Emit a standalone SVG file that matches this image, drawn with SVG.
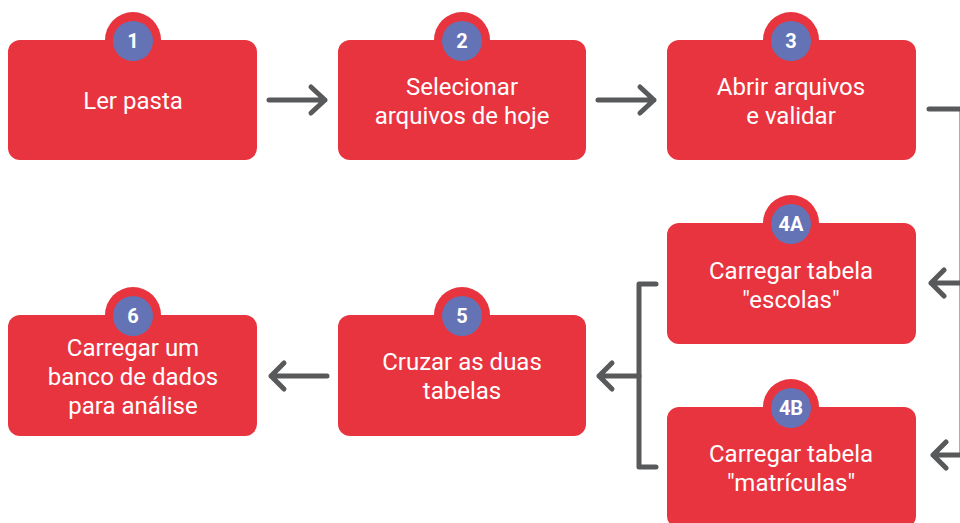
<svg xmlns="http://www.w3.org/2000/svg" width="960" height="523" viewBox="0 0 960 523">
<style>
.box{fill:#e8343f}
.ring{fill:#e8343f}
.dot{fill:#6373b5}
.t{fill:#fff;font-family:Roboto,"Liberation Sans",sans-serif;font-size:24px;text-anchor:middle}
.n{fill:#fff;font-family:Roboto,"Liberation Sans",sans-serif;font-size:20px;font-weight:bold;text-anchor:middle}
.c{fill:none;stroke:#58595b;stroke-width:5;stroke-linecap:round;stroke-linejoin:round}
</style>
<rect width="960" height="523" fill="#fff"/>
<g id="connectors">
<path class="c" d="M269 100H325M311 87L325 100L311 113"/>
<path class="c" d="M598 100H654M640 87L654 100L640 113"/>
<path class="c" d="M929 109H962V455"/>
<path class="c" d="M962 283H931M944 270L931 283L944 296"/>
<path class="c" d="M962 455H933M946 442L933 455L946 468"/>
<path class="c" d="M656 284H639V467H656"/>
<path class="c" d="M639 376H599M612 363L599 376L612 389"/>
<path class="c" d="M327 376H271M284 363L271 376L284 389"/>
</g>
<g id="node1">
<rect class="box" x="8" y="40" width="249" height="120" rx="12"/>
<circle class="ring" cx="133" cy="40" r="28"/><circle class="dot" cx="133" cy="41" r="20"/>
<text class="n" x="133" y="48">1</text>
<text class="t" x="133" y="109">Ler pasta</text>
</g>
<g id="node2">
<rect class="box" x="338" y="40" width="248" height="120" rx="12"/>
<circle class="ring" cx="462" cy="40" r="28"/><circle class="dot" cx="462" cy="41" r="20"/>
<text class="n" x="462" y="48">2</text>
<text class="t" x="462" y="95">Selecionar</text>
<text class="t" x="462" y="124">arquivos de hoje</text>
</g>
<g id="node3">
<rect class="box" x="667" y="40" width="249" height="120" rx="12"/>
<circle class="ring" cx="791" cy="40" r="28"/><circle class="dot" cx="791" cy="41" r="20"/>
<text class="n" x="791" y="48">3</text>
<text class="t" x="791" y="95">Abrir arquivos</text>
<text class="t" x="791" y="124">e validar</text>
</g>
<g id="node4a">
<rect class="box" x="667" y="223" width="249" height="121" rx="12"/>
<circle class="ring" cx="791" cy="223" r="28"/><circle class="dot" cx="791" cy="224" r="20"/>
<text class="n" x="791" y="231">4A</text>
<text class="t" x="791" y="279">Carregar tabela</text>
<text class="t" x="791" y="308">"escolas"</text>
</g>
<g id="node4b">
<rect class="box" x="667" y="407" width="249" height="121" rx="12"/>
<circle class="ring" cx="791" cy="407" r="28"/><circle class="dot" cx="791" cy="408" r="20"/>
<text class="n" x="791" y="415">4B</text>
<text class="t" x="791" y="462">Carregar tabela</text>
<text class="t" x="791" y="491">"matrículas"</text>
</g>
<g id="node5">
<rect class="box" x="338" y="315" width="248" height="121" rx="12"/>
<circle class="ring" cx="462" cy="315" r="28"/><circle class="dot" cx="462" cy="316" r="20"/>
<text class="n" x="462" y="323">5</text>
<text class="t" x="462" y="370">Cruzar as duas</text>
<text class="t" x="462" y="399">tabelas</text>
</g>
<g id="node6">
<rect class="box" x="8" y="315" width="249" height="121" rx="12"/>
<circle class="ring" cx="133" cy="315" r="28"/><circle class="dot" cx="133" cy="316" r="20"/>
<text class="n" x="133" y="323">6</text>
<text class="t" x="133" y="356">Carregar um</text>
<text class="t" x="133" y="385">banco de dados</text>
<text class="t" x="133" y="414">para análise</text>
</g>
</svg>
